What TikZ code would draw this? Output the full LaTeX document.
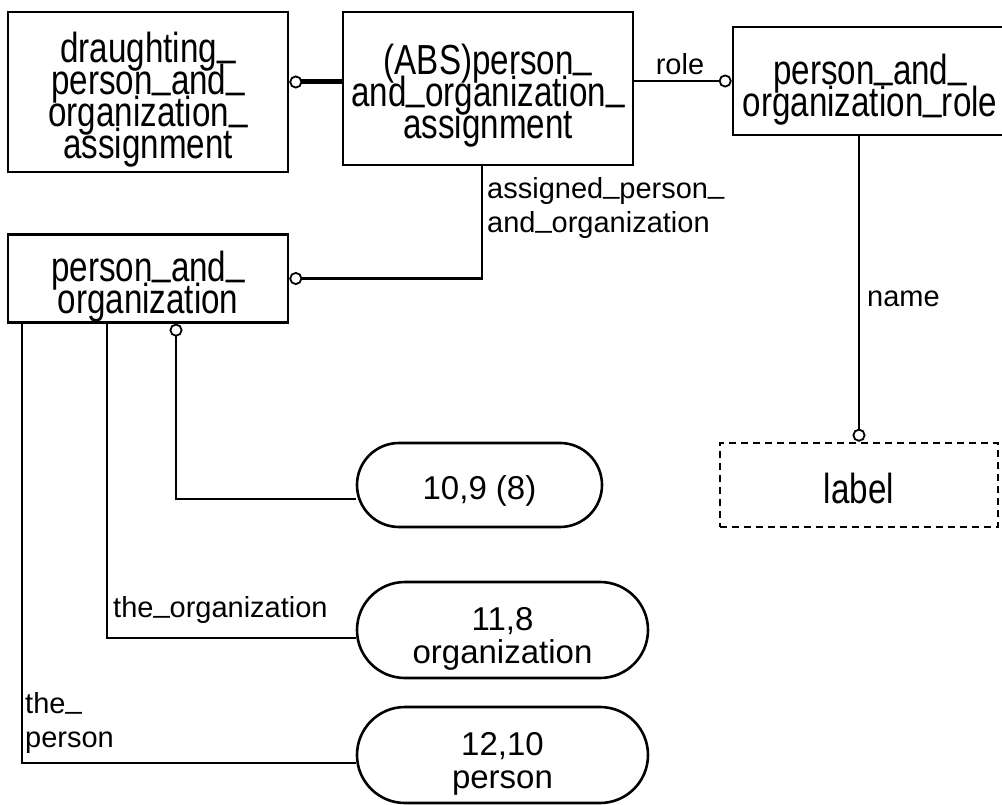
\documentclass[tikz,border=0pt]{standalone}
\usepackage{fontspec}
\setmainfont{Liberation Sans}
\newfontfamily\tallfont{Liberation Sans}[FakeStretch=0.79]
\usetikzlibrary{arrows.meta, shapes.misc}

\newcommand\entfont{\tallfont\fontsize{42}{32}\selectfont\lineskiplimit=-100pt\relax}
\newcommand\reffont{\fontsize{33}{33}\selectfont\lineskiplimit=-100pt\relax}
\newcommand\attrfont{\fontsize{29}{34}\selectfont\lineskiplimit=-100pt\relax}
% underscore sitting on the baseline
\newcommand\usc{\raisebox{0.17em}{\_}}

\tikzset{
  textdrop/.style={execute at begin node={\rule{0pt}{#1}}},
  entity/.style={draw, line width=2.6pt, inner sep=0pt, align=center, font=\entfont},
  typebox/.style={entity, dash pattern=on 7pt off 5pt},
  pagebox/.style={entity, rounded rectangle, rounded rectangle arc length=180, font=\reffont},
  relline/.style={line width=2.2pt},
  ring/.style={relline, -{Circle[fill=white, length=13pt, line width=1.8pt]}},
  attr/.style={inner sep=0pt, font=\attrfont}
}

\begin{document}
\begin{tikzpicture}[x=1pt, y=-1pt]
  \useasboundingbox (0,0) rectangle (1002,805);

  % entities
  \node[entity, textdrop=141pt, minimum width=280pt, minimum height=160pt] (dpoa) at (148,92) {draughting\usc\\person\usc and\usc\\organization\usc\\assignment};
  \node[entity, textdrop=108pt, minimum width=290pt, minimum height=153pt] (absa) at (488,88.5) {(ABS)person\usc\\and\usc organization\usc\\assignment};
  \node[entity, textdrop=80pt, minimum width=274pt, minimum height=108pt] (poar) at (870,81) {person\usc and\usc\\organization\usc role};
  \node[entity, textdrop=79pt, minimum width=280pt, minimum height=87pt] (pao) at (148,278.5) {person\usc and\usc\\organization};
  \node[typebox, textdrop=38pt, minimum width=278pt, minimum height=84pt] (lbl) at (859,485) {label};

  % page references
  \node[pagebox, textdrop=36pt, minimum width=245pt, minimum height=84pt] (ref1) at (479.5,485) {10,9 (8)};
  \node[pagebox, textdrop=73pt, minimum width=291pt, minimum height=96pt] (ref2) at (502.5,630) {11,8\\organization};
  \node[pagebox, textdrop=73pt, minimum width=291pt, minimum height=96pt] (ref3) at (502.5,755) {12,10\\person};

  % relationships
  \draw[ring, line width=5pt] (absa.west |- 0,82) -- (dpoa.east |- 0,82);
  \draw[ring] (absa.east |- poar.west) -- (poar.west);
  \node[attr, anchor=base] (lrole) at (680,75) {role};
  \draw[ring] (absa.south -| 482,0) |- (pao.east);
  \node[attr, anchor=west, align=left] (lassigned) at (487,208) {assigned\usc person\usc\\and\usc organization};
  \draw[ring] (poar.south -| lbl.north) -- (lbl.north);
  \node[attr, anchor=base west] (lname) at (867,307) {name};

  \draw[ring] ([yshift=-14pt]ref1.west) -| (pao.south -| 176,0);
  \draw[relline] (pao.south -| 107,0) |- ([yshift=-8pt]ref2.west);
  \node[attr, anchor=base west] (lorg) at (113,617) {the\usc organization};
  \draw[relline] (pao.south -| 22,0) |- ([yshift=-8pt]ref3.west);
  \node[attr, anchor=west, align=left] (lperson) at (25,723) {the\usc\\person};
\end{tikzpicture}
\end{document}
